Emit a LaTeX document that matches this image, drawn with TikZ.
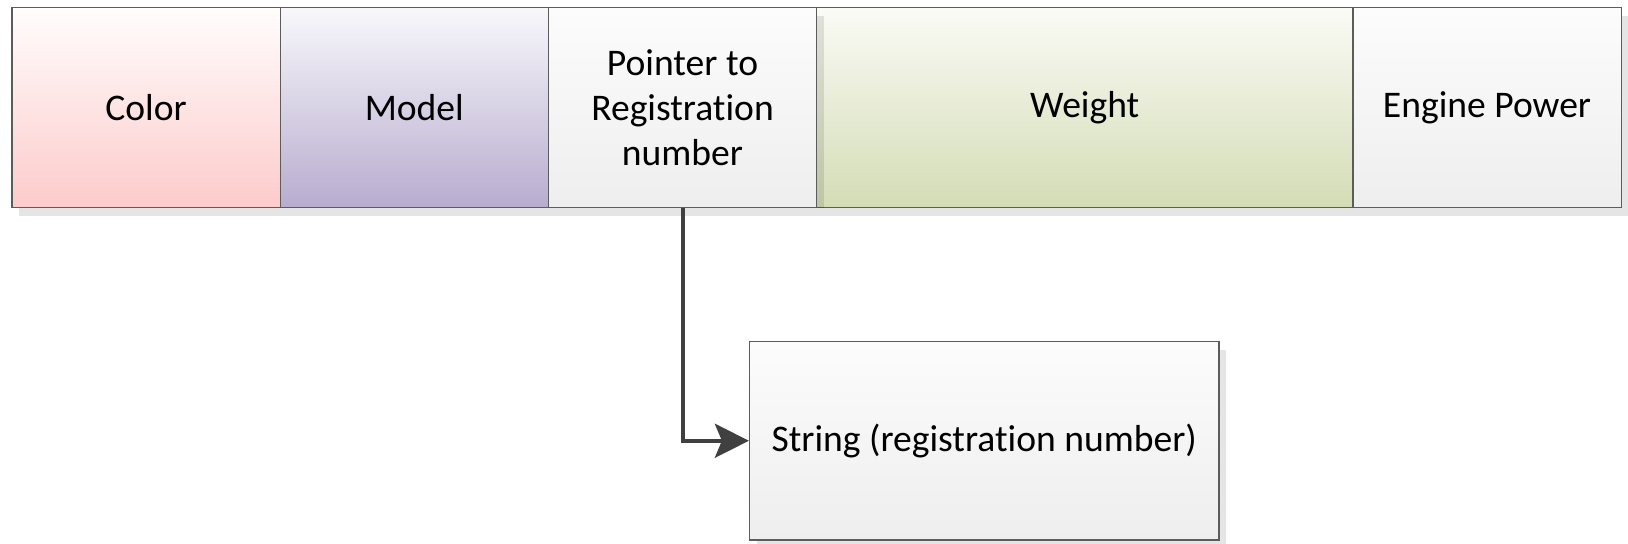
\documentclass[tikz,border=0pt]{standalone}
\usepackage{fontspec}
\setmainfont{Carlito}[RawFeature={-liga;-clig;-dlig;-calt}]
\usetikzlibrary{arrows.meta,shadows}

\definecolor{edgegrey}{HTML}{5C5C5C}
\definecolor{linkgrey}{HTML}{404040}
\definecolor{redtop}{HTML}{FFFDFD}
\definecolor{redbot}{HTML}{FDCBCB}
\definecolor{violettop}{HTML}{F8F8FB}
\definecolor{violetbot}{HTML}{B8ACCF}
\definecolor{greentop}{HTML}{FAFBF6}
\definecolor{greenbot}{HTML}{D4DCB5}
\definecolor{greytop}{HTML}{FCFCFC}
\definecolor{greybot}{HTML}{EEEEEE}

\begin{document}
\begin{tikzpicture}[x=0.5pt,y=-0.5pt,
  cell/.style={draw=edgegrey, line width=0.6pt, inner sep=0pt,
    minimum width=134.1pt, minimum height=100pt, align=center,
    font=\fontsize{18.8pt}{22.5pt}\selectfont,
    drop shadow={shadow xshift=3.5pt, shadow yshift=-4pt, fill=black, opacity=0.1}},
  widecell/.style={cell, minimum width=268.2pt},
  redfill/.style={top color=redtop, bottom color=redbot},
  violetfill/.style={top color=violettop, bottom color=violetbot},
  greenfill/.style={top color=greentop, bottom color=greenbot},
  greyfill/.style={top color=greytop, bottom color=greybot},
  target/.style={cell, minimum width=234.75pt, minimum height=99.25pt},
  link/.style={draw=linkgrey, line width=2pt,
    -{Stealth[length=17pt, width=17pt, inset=3.5pt]}}
]
\useasboundingbox (0,0) rectangle (1628,543);

% record fields of the structure
\node[cell, redfill]    (color)  at (146.1,107.5)  {Color};
\node[cell, violetfill] (model)  at (414.3,107.5)  {Model};
\node[widecell, greenfill] (weight) at (1084.7,107.5) {Weight};
\node[cell, greyfill]   (engine) at (1487.0,107.5) {Engine Power};
\node[cell, greyfill]   (ptr)    at (682.5,107.5)  {Pointer to\\Registration\\number};

% the string the pointer refers to
\node[target, greyfill] (str) at (984.25,440.75) {String (registration number)};

% pointer link
\draw[link] (ptr.south) |- (str.west);
\end{tikzpicture}
\end{document}
